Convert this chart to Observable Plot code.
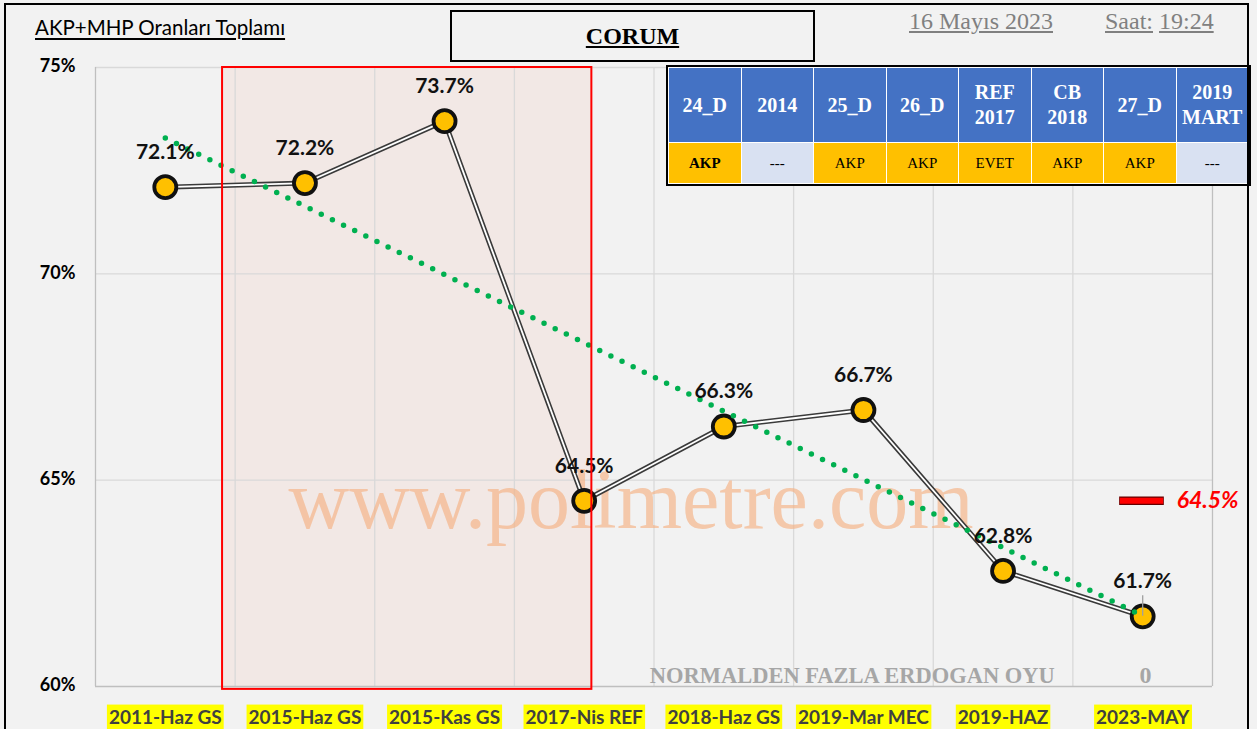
<!DOCTYPE html>
<html>
<head>
<meta charset="utf-8">
<script src="https://cdn.jsdelivr.net/npm/d3@7"></script>
<script src="https://cdn.jsdelivr.net/npm/@observablehq/plot@0.6"></script>
<style>
  html, body { margin: 0; padding: 0; background: #F2F2F2; }
  #wrap { position: relative; width: 1257px; height: 729px; background: #F2F2F2; overflow: hidden; }
  #frame { position: absolute; left: 4px; top: 3px; width: 1245px; height: 740px; border: 2px solid #000; box-sizing: border-box; pointer-events: none; }
  #title { position: absolute; left: 35px; top: 15px; font: 20.5px Lato, "Open Sans", sans-serif; color: #000; text-decoration: underline; text-underline-offset: 3px; white-space: nowrap; }
  #city { position: absolute; left: 450px; top: 10px; width: 365px; height: 52px; border: 2px solid #000; box-sizing: border-box; display: flex; align-items: center; justify-content: center; font: bold 24px "Liberation Serif", "Times New Roman", serif; text-decoration: underline; background: #F2F2F2; }
  .stamp { position: absolute; top: 8px; font: 24px "Liberation Serif", "Times New Roman", serif; color: #808080; white-space: nowrap; }
  .stamp span { text-decoration: underline; }
  #tbl { position: absolute; left: 666px; top: 65px; width: 585px; height: 121px; border: 2px solid #000; box-sizing: border-box; background: #fff; }
  #tbl table { width: 100%; height: 100%; border-collapse: separate; border-spacing: 1.5px; table-layout: fixed; }
  #tbl th { background: #4472C4; color: #fff; font: bold 20px "Liberation Serif", "Times New Roman", serif; line-height: 25px; height: 74px; padding: 0; text-align: center; }
  #tbl td { font: 15px "Liberation Serif", "Times New Roman", serif; color: #000; text-align: center; padding: 0; }
</style>
</head>
<body>
<div id="wrap">
  <div id="chart"></div>
  <div id="title"></div>
  <div id="city"></div>
  <div class="stamp" id="date" style="left:909px"></div>
  <div class="stamp" id="time" style="left:1105px"></div>
  <div id="tbl"></div>
  <div id="frame"></div>
</div>
<script>
// ---- data ----
const categories = ["2011-Haz GS", "2015-Haz GS", "2015-Kas GS", "2017-Nis REF", "2018-Haz GS", "2019-Mar MEC", "2019-HAZ", "2023-MAY"];
const values = [72.1, 72.2, 73.7, 64.5, 66.3, 66.7, 62.8, 61.7];
const yTicks = [60, 65, 70, 75];
const tableHeaders = ["24_D", "2014", "25_D", "26_D", "REF<br>2017", "CB<br>2018", "27_D", "2019<br>MART"];
const tableWinners = ["AKP", "---", "AKP", "AKP", "EVET", "AKP", "AKP", "---"];
const refValue = 64.5;
const highlightRange = [0.41, 3.055];           // shaded period (category index units)
const extraNoteText = "NORMALDEN FAZLA ERDOGAN OYU";
const extraNoteValue = 0;
const titleText = "AKP+MHP Oranları Toplamı";
const cityText = "CORUM";
const dateText = "16 Mayıs 2023";
const timeLabel = "Saat:";
const timeText = "19:24";
const watermarkText = "www.polimetre.com";

// ---- header / table ----
document.getElementById("title").textContent = titleText;
document.getElementById("city").textContent = cityText;
document.getElementById("date").innerHTML = `<span>${dateText}</span>`;
document.getElementById("time").innerHTML = `<span>${timeLabel}</span>&nbsp;<span>${timeText}</span>`;
{
  let html = "<table><tr>" + tableHeaders.map(h => `<th>${h}</th>`).join("") + "</tr><tr>";
  html += tableWinners.map((w, i) => {
    const bg = w === "---" ? "#D9E1F2" : "#FFC000";
    const fw = i === 0 ? "bold" : "normal";
    return `<td style="background:${bg};font-weight:${fw}">${w}</td>`;
  }).join("");
  html += "</tr></table>";
  document.getElementById("tbl").innerHTML = html;
}

// ---- chart ----
const data = categories.map((c, i) => ({i, c, v: values[i]}));
const last = categories.length - 1;
const bounds = d3.range(categories.length + 1).map(k => k - 0.5);
const serif = "Liberation Serif, Times New Roman, serif";

const plot = Plot.plot({
  width: 1257,
  height: 729,
  marginLeft: 95,
  marginRight: 45,
  marginTop: 67,
  marginBottom: 43,
  x: {domain: [-0.5, categories.length - 0.5], axis: null},
  y: {domain: [60, 75], axis: null},
  style: {background: "transparent", overflow: "visible", fontFamily: "Lato, Open Sans, sans-serif"},
  marks: [
    // shaded period fill
    Plot.rect([highlightRange], {x1: d => d[0], x2: d => d[1], y1: 59.93, y2: 75, fill: "#F2E8E5"}),
    // gridlines
    Plot.ruleY([65, 70, 75], {stroke: "#D9D9D9", strokeWidth: 1.3}),
    Plot.ruleX(bounds.slice(1, -1), {stroke: "#D9D9D9", strokeWidth: 1.3}),
    Plot.ruleX([bounds[0], bounds[bounds.length - 1]], {stroke: "#BFBFBF", strokeWidth: 1.3}),
    Plot.ruleY([60], {stroke: "#BFBFBF", strokeWidth: 1.3}),
    // watermark
    Plot.text([watermarkText], {frameAnchor: "middle", text: d => d, dx: -23, dy: 124, fontSize: 84,
      fontFamily: serif, fill: "#F4B183", fillOpacity: 0.65}),
    // double line
    Plot.line(data, {x: "i", y: "v", stroke: "#3A3A3A", strokeWidth: 5}),
    Plot.line(data, {x: "i", y: "v", stroke: "#FFFFFF", strokeWidth: 1.8}),
    // points
    Plot.dot(data, {x: "i", y: "v", r: 11, fill: "#FFC000", stroke: "#111", strokeWidth: 3.8}),
    // trend line
    Plot.linearRegressionY(data, {x: "i", y: "v", ci: 0, stroke: "#00B050", strokeWidth: 5.5,
      strokeDasharray: "0,12.4", strokeLinecap: "round"}),
    // leader for last label
    Plot.ruleX([data[last]], {x: "i", y1: "v", y2: d => d.v + 0.5, stroke: "#A0A0A0", strokeWidth: 1.3}),
    // value labels
    Plot.text(data, {x: "i", y: "v", text: d => d.v.toFixed(1) + "%", dy: -35, fontSize: 21,
      fontWeight: "bold", fill: "#111"}),
    // shaded period outline
    Plot.rect([highlightRange], {x1: d => d[0], x2: d => d[1], y1: 59.93, y2: 75, fill: "none", stroke: "#FF0000", strokeWidth: 2}),
    // reference marker
    Plot.ruleY([refValue], {x1: last - 0.165, x2: last + 0.155, stroke: "#600", strokeWidth: 8.5}),
    Plot.ruleY([refValue], {x1: last - 0.16, x2: last + 0.15, stroke: "#FF0000", strokeWidth: 6}),
    Plot.text([refValue], {x: last, y: d => d, text: d => d.toFixed(1) + "%", dx: 34, textAnchor: "start",
      fontSize: 23, fontWeight: "bold", fontStyle: "italic", fill: "#FF0000"}),
    // note
    Plot.text([extraNoteText], {x: 4.92, y: 60.27, text: d => d, fontSize: 24, fontWeight: "bold",
      fontFamily: serif, fill: "#A6A6A6"}),
    Plot.text([extraNoteValue], {x: last + 0.02, y: 60.27, text: d => String(d), fontSize: 24, fontWeight: "bold",
      fontFamily: serif, fill: "#A6A6A6"}),
    // y tick labels
    Plot.text(yTicks, {x: -0.5, y: d => d, text: d => d + "%", textAnchor: "end", dx: -20, dy: -1,
      fontSize: 18, fontWeight: "bold", fill: "#000"}),
    // x category labels
    Plot.text(data, {x: "i", y: 60, text: "c", dy: 31, fontSize: 19, fontWeight: "bold", fill: "#404040"})
  ]
});
document.getElementById("chart").appendChild(plot);

// yellow highlight behind category labels; condensed note text
plot.querySelectorAll("text").forEach(t => {
  if (categories.includes(t.textContent)) {
    const b = t.getBBox();
    const r = document.createElementNS("http://www.w3.org/2000/svg", "rect");
    r.setAttribute("x", b.x - 2);
    r.setAttribute("y", b.y);
    r.setAttribute("width", b.width + 4);
    r.setAttribute("height", b.height + 6);
    r.setAttribute("fill", "#FFFF00");
    if (t.getAttribute("transform")) r.setAttribute("transform", t.getAttribute("transform"));
    t.parentNode.insertBefore(r, t);
  }
  if (t.textContent === extraNoteText) {
    t.setAttribute("textLength", 405);
    t.setAttribute("lengthAdjust", "spacingAndGlyphs");
  }
});
</script>
</body>
</html>
